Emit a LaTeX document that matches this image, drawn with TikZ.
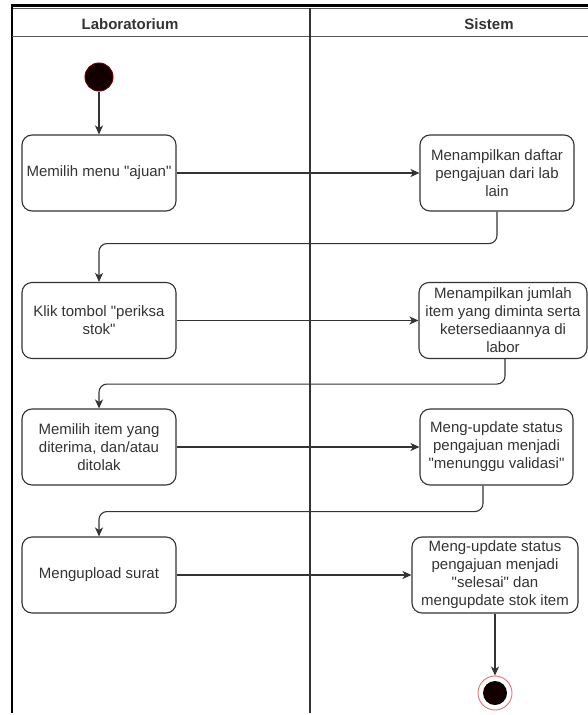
\documentclass[tikz,border=0pt]{standalone}
\usepackage{fontspec}
\setmainfont{Liberation Sans}[Ligatures=TeXOff]
\usetikzlibrary{arrows.meta}
\definecolor{ink}{HTML}{333333}
\definecolor{laneline}{HTML}{555555}
\definecolor{startred}{HTML}{6E0000}
\definecolor{ringred}{HTML}{E07070}
\definecolor{dot}{HTML}{120000}
\begin{document}
\begin{tikzpicture}[x=1pt,y=-1pt,
  action/.style={draw=ink, line width=1.1pt, rounded corners=10pt,
    minimum height=76pt, align=center, text=ink, inner sep=0pt,
    font=\fontsize{15}{18}\selectfont},
  flow/.style={draw=ink, line width=1.1pt, rounded corners=8pt,
    -{Stealth[length=9pt,width=8pt,inset=2.5pt]}},
  lanetitle/.style={anchor=base, text=ink, font=\fontsize{15}{18}\selectfont\bfseries},
  startnode/.style={circle, minimum size=28pt, inner sep=0pt, fill=dot, draw=startred, line width=1pt},
  endring/.style={circle, minimum size=34pt, inner sep=0pt, fill=white, draw=ringred, line width=0.9pt},
  enddot/.style={circle, minimum size=24pt, inner sep=0pt, fill=dot}
]
\useasboundingbox (0,0) rectangle (588,715);

% swimlane frame
\draw[line width=3pt] (12,5.5) -- (588,5.5);
\draw[laneline, line width=0.9pt] (12,8.5) -- (588,8.5);
\draw[line width=2.5pt] (12,4) -- (12,713);
\draw[laneline, line width=1.5pt] (12,36.5) -- (588,36.5);
\draw[ink, line width=1.1pt] (310,8) -- (310,713);

% lane titles
\node[lanetitle] (tlab) at (130,29.5) {Laboratorium};
\node[lanetitle] (tsis) at (489,29.5) {Sistem};

% start
\node[startnode] (start) at (99,77) {};

% Laboratorium actions
\node[action, minimum width=154pt] (L1) at (99,173) {Memilih menu "ajuan"};
\node[action, minimum width=154pt] (L2) at (99,320.5) {Klik tombol "periksa\\stok"};
\node[action, minimum width=154pt] (L3) at (99,447) {Memilih item yang\\diterima, dan/atau\\ditolak};
\node[action, minimum width=154pt] (L4) at (99,575) {Mengupload surat};

% Sistem actions
\node[action, minimum width=154pt] (R1) at (497,173) {Menampilkan daftar\\pengajuan dari lab\\lain};
\node[action, minimum width=168pt] (R2) at (503,320.5) {Menampilkan jumlah\\item yang diminta serta\\ketersediaannya di\\labor};
\node[action, minimum width=153pt] (R3) at (496.5,447) {Meng-update status\\pengajuan menjadi\\"menunggu validasi"};
\node[action, minimum width=166pt] (R4) at (495,575) {Meng-update status\\pengajuan menjadi\\"selesai" dan\\mengupdate stok item};

% end
\node[endring] (end) at (495,693) {};
\node[enddot] (enddisc) at (end.center) {};

% flows
\draw[flow] (start) -- (L1);
\draw[flow] (L1) -- (R1);
\draw[flow] (R1.south) -- ++(0,32) -| (L2.north);
\draw[flow] (L2) -- (R2);
\draw[flow] ([xshift=2pt]R2.south) -- ++(0,25) -| (L3.north);
\draw[flow] (L3) -- (R3);
\draw[flow] ([xshift=-13.5pt]R3.south) -- ++(0,26) -| (L4.north);
\draw[flow] (L4) -- (R4);
\draw[flow] (R4) -- (end);
\end{tikzpicture}
\end{document}
